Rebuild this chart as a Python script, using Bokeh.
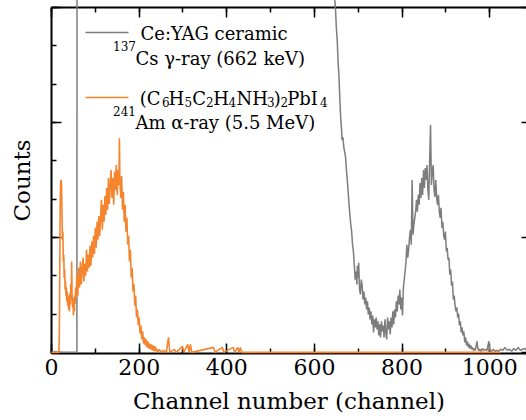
from bokeh.plotting import figure
from bokeh.models import Range1d, LinearAxis, SingleIntervalTicker, Label
from bokeh.embed import file_html
from bokeh.resources import INLINE

# Pulse-height spectra (counts per channel)
# Ce:YAG ceramic under 137Cs gamma rays
ceyag_channels = [0, 58, 59, 100, 200, 300, 400, 500, 600, 640,
                  648, 650, 652, 654, 656, 658, 660, 662, 663, 665, 667, 669, 671, 673, 675, 677, 679,
                  681, 683, 685, 687, 689, 691, 693, 695, 697, 698, 700, 701, 703, 705, 707, 709,
                  711, 713, 715, 717, 719, 721, 723, 725, 727, 729, 731, 733, 735, 737, 739, 741,
                  743, 745, 747, 749, 751, 753, 755, 757, 759, 761, 763, 765, 767, 769, 771, 773,
                  775, 777, 779, 781, 783, 785, 787, 789, 791, 793, 795, 797, 799, 801, 803, 805,
                  807, 809, 811, 813, 815, 817, 819, 821, 823, 825, 827, 829, 831, 833, 835, 837,
                  839, 841, 843, 845, 847, 849, 851, 853, 855, 857, 859, 861, 863, 865, 867, 869,
                  871, 873, 875, 877, 879, 881, 883, 885, 887, 889, 891, 893, 895, 897, 899, 901,
                  903, 905, 907, 909, 911, 913, 915, 917, 919, 921, 923, 925, 927, 929, 931, 933,
                  935, 937, 939, 941, 943, 945, 947, 949, 951, 953, 955, 957, 959, 961, 963, 965,
                  967, 969, 971, 973, 975, 977, 980, 983, 986, 990, 994, 998, 1000, 1004, 1008,
                  1012, 1016, 1020, 1025, 1030, 1035, 1040, 1045, 1050, 1055, 1060, 1065, 1070,
                  1075, 1080, 1084]
ceyag_counts = [0, 0, 5200, 4800, 3900, 3100, 2500, 1900, 1300, 1000,
                900, 848, 816, 759, 722, 660, 611, 580, 554, 562, 536, 523, 510, 476, 450, 419, 385,
                359, 333, 315, 281, 263, 229, 190, 211, 177, 226, 195, 234, 164, 151, 190, 174,
                138, 159, 125, 143, 112, 133, 99, 117, 86, 107, 73, 96, 52, 86, 65, 91,
                60, 81, 44, 73, 39, 81, 55, 70, 39, 86, 52, 34, 91, 60, 81, 47,
                91, 65, 107, 73, 112, 91, 133, 107, 148, 125, 164, 112, 143, 96, 169, 190,
                211, 237, 281, 247, 268, 299, 320, 281, 450, 307, 333, 351, 367, 398, 367, 411,
                385, 442, 403, 455, 411, 476, 429, 481, 450, 489, 424, 398, 502, 593, 437, 471,
                489, 424, 406, 450, 403, 385, 411, 367, 351, 377, 325, 341, 304, 294, 315, 263,
                273, 242, 247, 203, 216, 174, 185, 138, 148, 122, 107, 117, 91, 101, 70, 81,
                52, 65, 44, 55, 26, 39, 18, 29, 13, 23, 10, 18, 8, 13, 5, 10,
                5, 16, 29, 10, 5, 8, 3, 10, 5, 8, 5, 29, 5, 3, 8,
                3, 5, 3, 8, 5, 13, 5, 8, 3, 10, 5, 13, 5,
                8, 10, 5]

# (C6H5C2H4NH3)2PbI4 under 241Am alpha particles
pea_channels = [0, 17, 18, 19, 20, 21, 22, 23, 24, 25, 26, 27, 28, 29, 30, 31, 32, 33, 34, 35,
                36, 37, 38, 39, 40, 41, 42, 43, 44, 45, 46, 47, 48, 49, 50, 51, 52, 53, 54, 55, 56,
                58, 60, 62, 64, 66, 68, 70, 72, 74, 76, 78, 80, 82, 84, 86, 88, 90, 92, 94, 96,
                98, 100, 102, 104, 106, 108, 110, 112, 114, 116, 118, 120, 122, 124, 126, 128,
                130, 132, 134, 136, 138, 140, 142, 144, 146, 148, 150, 152, 154, 155, 156, 158,
                160, 162, 164, 166, 168, 170, 172, 174, 176, 178, 180, 182, 184, 186, 188, 190,
                192, 194, 196, 198, 200, 202, 204, 206, 208, 210, 212, 214, 216, 218, 220, 222,
                224, 226, 228, 230, 232, 234, 236, 238, 240, 242, 246, 250, 256, 262, 267, 270,
                280, 285, 299, 302, 311, 314, 317, 320, 370, 373, 390, 393, 415, 418, 425, 428,
                431, 434, 1025]
pea_counts = [0, 0, 60, 242, 398, 445, 450, 434, 359, 294, 315, 237, 255, 195, 216, 164, 185, 148, 169, 133,
              159, 122, 148, 112, 143, 107, 153, 125, 179, 138, 237, 148, 117, 143, 96, 122, 107, 148, 127, 169, 143,
              203, 148, 221, 169, 237, 177, 216, 247, 185, 231, 200, 268, 211, 255, 221, 278, 226, 289, 247, 304,
              257, 325, 273, 341, 294, 356, 304, 351, 398, 320, 385, 341, 408, 359, 429, 372,
              455, 387, 437, 476, 403, 455, 385, 471, 424, 489, 411, 476, 437, 559, 450, 403,
              460, 372, 419, 341, 385, 315, 351, 281, 304, 237, 268, 195, 221, 159, 179, 122,
              148, 91, 112, 70, 91, 49, 70, 34, 55, 23, 39, 18, 34, 13, 29, 10,
              23, 8, 21, 5, 18, 3, 16, 3, 10, 0, 8, 0, 5, 0, 39, 0,
              8, 0, 16, 0, 21, 0, 21, 0, 13, 0, 13, 0, 13, 0, 13, 0,
              13, 0, 0]

CEYAG_COLOR = "#7d7d7d"
PEA_COLOR = "#f5842f"
SERIF = "DejaVu Serif"

X_START, X_END = 0, 1084
Y_START, Y_END = -3, 900
FRAME_W, FRAME_H = 475, 346


def fx(px):
    """Horizontal offset from the frame's left edge (pixels) -> channel."""
    return X_START + px * (X_END - X_START) / FRAME_W


def fy(py):
    """Vertical offset from the frame's top edge (pixels) -> counts."""
    return Y_START + (FRAME_H - py) * (Y_END - Y_START) / FRAME_H


p = figure(width=526, height=420, output_backend="svg", toolbar_location=None,
           x_range=Range1d(X_START, X_END), y_range=Range1d(Y_START, Y_END),
           x_axis_label="Channel number (channel)", y_axis_label="Counts",
           min_border_left=51, min_border_right=0, min_border_top=7, min_border_bottom=67)
p.outline_line_color = None
p.xgrid.visible = False
p.ygrid.visible = False
p.background_fill_color = "white"
p.border_fill_color = "white"

bottom_axis = p.below[0]
left_axis = p.left[0]

x_ticker = SingleIntervalTicker(interval=200, num_minor_ticks=2)
y_ticker = SingleIntervalTicker(interval=300, num_minor_ticks=3)

top_axis = LinearAxis(ticker=x_ticker)
right_axis = LinearAxis(ticker=y_ticker)
p.add_layout(top_axis, "above")
p.add_layout(right_axis, "right")

bottom_axis.ticker = x_ticker
left_axis.ticker = y_ticker

for ax in [bottom_axis, left_axis, top_axis, right_axis]:
    ax.axis_line_color = "black"
    ax.axis_line_width = 2
    ax.major_tick_line_color = "black"
    ax.minor_tick_line_color = "black"
    ax.major_tick_line_width = 1.5
    ax.minor_tick_line_width = 1.5
    ax.major_tick_out = 0
    ax.minor_tick_out = 0
    ax.major_tick_in = 10
    ax.minor_tick_in = 5
    ax.major_label_text_font = SERIF
    ax.major_label_text_color = "black"
    ax.axis_label_text_font = SERIF
    ax.axis_label_text_font_style = "normal"
    ax.axis_label_text_color = "black"
    ax.axis_label_text_font_size = "23px"

# bottom axis carries the only numeric labels
bottom_axis.major_label_text_font_size = "22px"
bottom_axis.major_label_standoff = 5
bottom_axis.axis_label_standoff = 10

for ax in [left_axis, top_axis, right_axis]:
    ax.major_label_text_font_size = "0px"
    ax.major_label_text_color = None
    ax.major_label_standoff = 0
left_axis.axis_label_standoff = 17

# right edge: only the inner part of the major ticks, no spine
right_axis.axis_line_color = None
right_axis.major_tick_in = 5
right_axis.minor_tick_in = 0

p.line(ceyag_channels, ceyag_counts, color=CEYAG_COLOR, line_width=1.5, level="overlay")
p.line(pea_channels, pea_counts, color=PEA_COLOR, line_width=1.6, level="overlay")

# legend swatches
p.segment(x0=[fx(34)], y0=[fy(25)], x1=[fx(77)], y1=[fy(25)], color=CEYAG_COLOR, line_width=1.6)
p.segment(x0=[fx(34)], y0=[fy(90)], x1=[fx(77)], y1=[fy(90)], color=PEA_COLOR, line_width=1.6)

# legend text pieces: (text, x offset, baseline offset, font size) inside the frame
legend_pieces = [
    ("Ce:YAG ceramic", 89, 26, 18),
    ("137", 61.5, 38.5, 12),
    ("Cs \u03b3-ray (662 keV)", 84, 51, 18),
    ("(C", 88.3, 90.5, 18),
    ("6", 110.5, 94.5, 12),
    ("H", 117, 90.5, 18),
    ("5", 133, 94.5, 12),
    ("C", 140.7, 90.5, 18),
    ("2", 154.5, 94.5, 12),
    ("H", 161.7, 90.5, 18),
    ("4", 177, 94.5, 12),
    ("NH", 185, 90.5, 18),
    ("3", 215.5, 94.5, 12),
    (")", 222.3, 90.5, 18),
    ("2", 229, 94.5, 12),
    ("PbI", 235.7, 90.5, 18),
    ("4", 268.5, 94.5, 12),
    ("241", 61.5, 103, 12),
    ("Am \u03b1-ray (5.5 MeV)", 84, 114.7, 18),
]
for text, ox, oy, size in legend_pieces:
    p.add_layout(Label(x=fx(ox), y=fy(oy), text=text, text_font=SERIF, text_font_size=f"{size}px",
                       text_color="black", text_align="left", text_baseline="alphabetic"))

open("out.html", "w").write(file_html(p, INLINE))
